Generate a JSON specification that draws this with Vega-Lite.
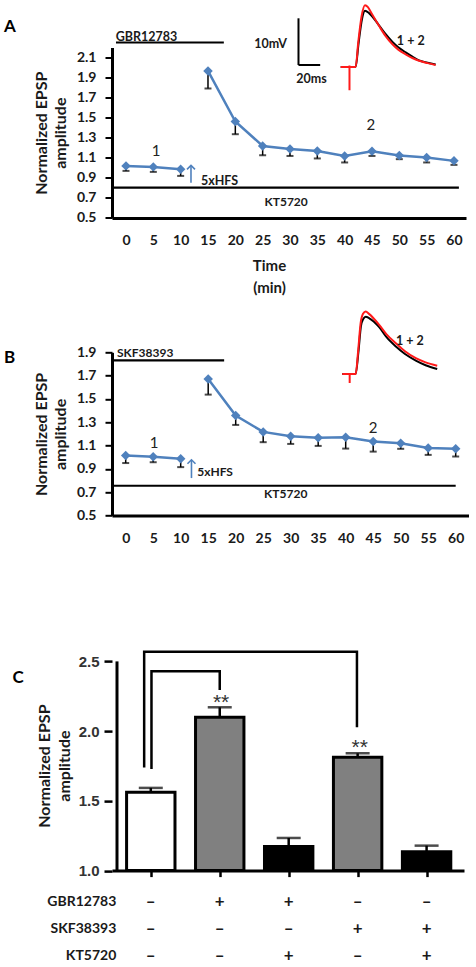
{
  "$schema": "https://vega.github.io/schema/vega-lite/v6.json",
  "padding": {"left": 3, "top": 0.5, "right": 0, "bottom": 0},
  "bounds": "flush",
  "spacing": 133.8,
  "config": {"view": {"stroke": null}, "font": "Lato", "axis": {"grid": false, "labelOverlap": false, "labelBound": false, "tickCount": 30}},
  "datasets": {
    "seriesA": [
      {"time": 0, "phase": "baseline", "value": 1.019, "lower": 0.969},
      {"time": 5, "phase": "baseline", "value": 1.009, "lower": 0.959},
      {"time": 10, "phase": "baseline", "value": 0.986, "lower": 0.919},
      {"time": 15, "phase": "post", "value": 1.966, "lower": 1.791},
      {"time": 20, "phase": "post", "value": 1.462, "lower": 1.335},
      {"time": 25, "phase": "post", "value": 1.218, "lower": 1.125},
      {"time": 30, "phase": "post", "value": 1.188, "lower": 1.118},
      {"time": 35, "phase": "post", "value": 1.168, "lower": 1.093},
      {"time": 40, "phase": "post", "value": 1.118, "lower": 1.053},
      {"time": 45, "phase": "post", "value": 1.165, "lower": 1.118},
      {"time": 50, "phase": "post", "value": 1.122, "lower": 1.086},
      {"time": 55, "phase": "post", "value": 1.102, "lower": 1.053},
      {"time": 60, "phase": "post", "value": 1.069, "lower": 1.029}
    ],
    "seriesB": [
      {"time": 0, "phase": "baseline", "value": 1.014, "lower": 0.950},
      {"time": 5, "phase": "baseline", "value": 1.003, "lower": 0.957},
      {"time": 10, "phase": "baseline", "value": 0.986, "lower": 0.915},
      {"time": 15, "phase": "post", "value": 1.671, "lower": 1.537},
      {"time": 20, "phase": "post", "value": 1.357, "lower": 1.277},
      {"time": 25, "phase": "post", "value": 1.217, "lower": 1.129},
      {"time": 30, "phase": "post", "value": 1.180, "lower": 1.114},
      {"time": 35, "phase": "post", "value": 1.166, "lower": 1.097},
      {"time": 40, "phase": "post", "value": 1.172, "lower": 1.074},
      {"time": 45, "phase": "post", "value": 1.134, "lower": 1.048},
      {"time": 50, "phase": "post", "value": 1.120, "lower": 1.072},
      {"time": 55, "phase": "post", "value": 1.080, "lower": 1.020},
      {"time": 60, "phase": "post", "value": 1.072, "lower": 1.006}
    ],
    "traceA": [
      {"trace": "1", "ms": -8.1, "mV": 0}, {"trace": "1", "ms": 0, "mV": 0}, {"trace": "1", "ms": 5.7, "mV": 0},
      {"trace": "1", "ms": 8.3, "mV": 4.9}, {"trace": "1", "ms": 11.5, "mV": 10.2}, {"trace": "1", "ms": 14.3, "mV": 12.0},
      {"trace": "1", "ms": 18, "mV": 11.5}, {"trace": "1", "ms": 27.2, "mV": 8.9}, {"trace": "1", "ms": 33, "mV": 7.1},
      {"trace": "1", "ms": 39.4, "mV": 5.4}, {"trace": "1", "ms": 45, "mV": 4.2}, {"trace": "1", "ms": 51.8, "mV": 3.1},
      {"trace": "1", "ms": 58, "mV": 2.2}, {"trace": "1", "ms": 64.1, "mV": 1.4}, {"trace": "1", "ms": 72, "mV": 0.9},
      {"trace": "1", "ms": 79.4, "mV": 0.5},
      {"trace": "2", "ms": -8.1, "mV": 0}, {"trace": "2", "ms": 0, "mV": 0}, {"trace": "2", "ms": 5.7, "mV": 0},
      {"trace": "2", "ms": 8.1, "mV": 5.3}, {"trace": "2", "ms": 11.2, "mV": 10.9}, {"trace": "2", "ms": 14.3, "mV": 13.2},
      {"trace": "2", "ms": 17, "mV": 12.8}, {"trace": "2", "ms": 20.7, "mV": 11.3}, {"trace": "2", "ms": 27.2, "mV": 8.8},
      {"trace": "2", "ms": 33, "mV": 6.7}, {"trace": "2", "ms": 39.4, "mV": 4.9}, {"trace": "2", "ms": 45, "mV": 3.7},
      {"trace": "2", "ms": 51.8, "mV": 2.7}, {"trace": "2", "ms": 58, "mV": 1.9}, {"trace": "2", "ms": 64.1, "mV": 1.3},
      {"trace": "2", "ms": 72, "mV": 0.8}, {"trace": "2", "ms": 79.4, "mV": 0.4}
    ],
    "traceB": [
      {"trace": "1", "ms": -6.8, "mV": 0}, {"trace": "1", "ms": 0, "mV": 0}, {"trace": "1", "ms": 5.5, "mV": 0},
      {"trace": "1", "ms": 8.1, "mV": 4.8}, {"trace": "1", "ms": 10.4, "mV": 10.3}, {"trace": "1", "ms": 12.5, "mV": 11.8},
      {"trace": "1", "ms": 14.8, "mV": 12.3}, {"trace": "1", "ms": 17.8, "mV": 12.0}, {"trace": "1", "ms": 27, "mV": 10.1},
      {"trace": "1", "ms": 34, "mV": 7.9}, {"trace": "1", "ms": 42.6, "mV": 5.9}, {"trace": "1", "ms": 51, "mV": 4.3},
      {"trace": "1", "ms": 61, "mV": 2.9}, {"trace": "1", "ms": 70, "mV": 1.9}, {"trace": "1", "ms": 80.7, "mV": 1.1},
      {"trace": "2", "ms": -6.8, "mV": 0}, {"trace": "2", "ms": 0, "mV": 0}, {"trace": "2", "ms": 5.5, "mV": 0},
      {"trace": "2", "ms": 7.9, "mV": 5.2}, {"trace": "2", "ms": 10.1, "mV": 10.9}, {"trace": "2", "ms": 12.3, "mV": 12.9},
      {"trace": "2", "ms": 14.8, "mV": 13.4}, {"trace": "2", "ms": 17.8, "mV": 12.9}, {"trace": "2", "ms": 27, "mV": 10.6},
      {"trace": "2", "ms": 34, "mV": 8.5}, {"trace": "2", "ms": 42.6, "mV": 6.6}, {"trace": "2", "ms": 51, "mV": 4.9},
      {"trace": "2", "ms": 61, "mV": 3.4}, {"trace": "2", "ms": 70, "mV": 2.5}, {"trace": "2", "ms": 80.7, "mV": 1.8}
    ],
    "bars": [
      {"idx": 0, "condition": "Control", "mean": 1.561, "err": 1.593},
      {"idx": 1, "condition": "GBR12783", "mean": 2.099, "err": 2.171},
      {"idx": 2, "condition": "GBR12783 + KT5720", "mean": 1.172, "err": 1.234},
      {"idx": 3, "condition": "SKF38393", "mean": 1.812, "err": 1.841},
      {"idx": 4, "condition": "SKF38393 + KT5720", "mean": 1.136, "err": 1.179}
    ],
    "brackets": [
      {"bracket": "Control vs GBR12783", "step": 1, "idx": 0.01, "value": 1.729},
      {"bracket": "Control vs GBR12783", "step": 2, "idx": 0.01, "value": 2.429},
      {"bracket": "Control vs GBR12783", "step": 3, "idx": 1.0, "value": 2.429},
      {"bracket": "Control vs GBR12783", "step": 4, "idx": 1.0, "value": 2.295},
      {"bracket": "Control vs SKF38393", "step": 1, "idx": -0.096, "value": 1.74},
      {"bracket": "Control vs SKF38393", "step": 2, "idx": -0.096, "value": 2.57},
      {"bracket": "Control vs SKF38393", "step": 3, "idx": 2.99, "value": 2.57},
      {"bracket": "Control vs SKF38393", "step": 4, "idx": 2.99, "value": 2.027}
    ],
    "stars": [
      {"idx": 1.02, "value": 2.2, "label": "**"},
      {"idx": 3.03, "value": 1.882, "label": "**"}
    ],
    "factors": [
      {"factor": "GBR12783", "row": 1},
      {"factor": "SKF38393", "row": 2},
      {"factor": "KT5720", "row": 3}
    ],
    "signs": [
      {"row": 1, "idx": 0, "sign": "–"}, {"row": 1, "idx": 1, "sign": "+"}, {"row": 1, "idx": 2, "sign": "+"}, {"row": 1, "idx": 3, "sign": "–"}, {"row": 1, "idx": 4, "sign": "–"},
      {"row": 2, "idx": 0, "sign": "–"}, {"row": 2, "idx": 1, "sign": "–"}, {"row": 2, "idx": 2, "sign": "–"}, {"row": 2, "idx": 3, "sign": "+"}, {"row": 2, "idx": 4, "sign": "+"},
      {"row": 3, "idx": 0, "sign": "–"}, {"row": 3, "idx": 1, "sign": "–"}, {"row": 3, "idx": 2, "sign": "+"}, {"row": 3, "idx": 3, "sign": "–"}, {"row": 3, "idx": 4, "sign": "+"}
    ]
  },
  "vconcat": [
    {
      "width": 354,
      "height": 170.4,
      "resolve": {"scale": {"x": "independent", "y": "independent"}, "axis": {"x": "independent", "y": "independent"}},
      "layer": [
        {
          "layer": [
            {
              "data": {"name": "seriesA"},
              "mark": {"type": "rule", "color": "black", "strokeWidth": 1.5},
              "encoding": {
                "x": {"field": "time", "type": "quantitative", "scale": {"domain": [-2.56, 62.2], "nice": false, "zero": false},
                  "axis": {"values": [0, 5, 10, 15, 20, 25, 30, 35, 40, 45, 50, 55, 60], "tickCount": 30, "ticks": false, "domainColor": "black", "domainWidth": 3,
                    "labelFont": "Lato", "labelFontWeight": "bold", "labelFontSize": 14, "labelColor": "#1a1a1a", "labelPadding": 15.5, "labelFlush": false, "labelOverlap": false,
                    "title": ["Time", "(min)"], "titleFont": "Lato", "titleFontSize": 15, "titleFontWeight": "bold", "titleColor": "#1a1a1a",
                    "titleX": 157, "titleY": 41, "titleBaseline": "top", "titleAlign": "center", "titleLineHeight": 21.6}},
                "y": {"field": "lower", "type": "quantitative", "scale": {"domain": [0.5, 2.2], "nice": false, "zero": false},
                  "axis": {"values": [0.5, 0.7, 0.9, 1.1, 1.3, 1.5, 1.7, 1.9, 2.1], "tickCount": 30, "format": ".1f", "domainColor": "black", "domainWidth": 3,
                    "tickColor": "black", "tickWidth": 2, "tickSize": 7, "labelPadding": 9,
                    "labelFont": "Lato", "labelFontWeight": "bold", "labelFontSize": 14, "labelColor": "#1a1a1a", "labelFlush": false, "labelOverlap": false,
                    "title": ["Normalized EPSP", "amplitude"], "titleFont": "Lato", "titleFontSize": 16, "titleFontWeight": "bold", "titleColor": "#1a1a1a",
                    "titleLineHeight": 19, "titlePadding": 8}},
                "y2": {"field": "value"}
              }
            },
            {
              "data": {"name": "seriesA"},
              "mark": {"type": "tick", "orient": "horizontal", "color": "black", "size": 7, "thickness": 2},
              "encoding": {
                "x": {"field": "time", "type": "quantitative"},
                "y": {"field": "lower", "type": "quantitative"}
              }
            },
            {
              "data": {"name": "seriesA"},
              "mark": {"type": "line", "color": "#4F81BD", "strokeWidth": 2.5},
              "encoding": {
                "x": {"field": "time", "type": "quantitative"},
                "y": {"field": "value", "type": "quantitative"},
                "detail": {"field": "phase"}
              }
            },
            {
              "data": {"name": "seriesA"},
              "mark": {"type": "point", "shape": "diamond", "filled": true, "color": "#4F81BD", "size": 90, "opacity": 1},
              "encoding": {
                "x": {"field": "time", "type": "quantitative"},
                "y": {"field": "value", "type": "quantitative"}
              }
            },
            {
              "data": {"values": [
                {"drug": "GBR12783", "start": -1.83, "end": 17.9, "level": 2.25},
                {"drug": "KT5720", "start": -2.56, "end": 60.9, "level": 0.803}
              ]},
              "mark": {"type": "rule", "color": "black", "strokeWidth": 2.2},
              "encoding": {
                "x": {"field": "start", "type": "quantitative"},
                "x2": {"field": "end"},
                "y": {"field": "level", "type": "quantitative"}
              }
            },
            {
              "data": {"values": [{"label": "GBR12783", "time": -1.88, "value": 2.305}, {"label": "5xHFS", "time": 13.7, "value": 0.869}]},
              "mark": {"type": "text", "align": "left", "baseline": "middle", "font": "Lato", "fontWeight": "bold", "fontSize": 12.5, "color": "#1a1a1a"},
              "encoding": {
                "x": {"field": "time", "type": "quantitative"},
                "y": {"field": "value", "type": "quantitative"},
                "text": {"field": "label"}
              }
            },
            {
              "data": {"values": [{"label": "KT5720", "time": 29.3, "value": 0.657}]},
              "mark": {"type": "text", "align": "center", "baseline": "middle", "font": "Lato", "fontWeight": "bold", "fontSize": 12, "color": "#1a1a1a"},
              "encoding": {
                "x": {"field": "time", "type": "quantitative"},
                "y": {"field": "value", "type": "quantitative"},
                "text": {"field": "label"}
              }
            },
            {
              "data": {"values": [{"label": "1", "time": 5.49, "value": 1.168}, {"label": "2", "time": 44.8, "value": 1.425}]},
              "mark": {"type": "text", "align": "center", "baseline": "middle", "font": "Lato", "fontSize": 15, "color": "#222222"},
              "encoding": {
                "x": {"field": "time", "type": "quantitative"},
                "y": {"field": "value", "type": "quantitative"},
                "text": {"field": "label"}
              }
            },
            {
              "data": {"values": [{"label": "A", "time": -22.3, "value": 2.407}]},
              "mark": {"type": "text", "align": "left", "baseline": "middle", "font": "Lato", "fontWeight": "bold", "fontSize": 17, "color": "#000000"},
              "encoding": {
                "x": {"field": "time", "type": "quantitative"},
                "y": {"field": "value", "type": "quantitative"},
                "text": {"field": "label"}
              }
            },
            {
              "data": {"values": [{"event": "5xHFS", "time": 11.89, "from": 0.85, "to": 1.02}]},
              "mark": {"type": "rule", "color": "#4F81BD", "strokeWidth": 1.6},
              "encoding": {
                "x": {"field": "time", "type": "quantitative"},
                "y": {"field": "from", "type": "quantitative"},
                "y2": {"field": "to"}
              }
            },
            {
              "data": {"values": [{"event": "5xHFS", "time": 11.89, "to": 1.024}]},
              "mark": {"type": "point", "shape": "M-1,1L0,0L1,1", "filled": false, "color": "#4F81BD", "strokeWidth": 1.6, "size": 64, "opacity": 1},
              "encoding": {
                "x": {"field": "time", "type": "quantitative"},
                "y": {"field": "to", "type": "quantitative"}
              }
            }
          ]
        },
        {
          "layer": [
            {
              "data": {"name": "traceA"},
              "transform": [{"filter": "datum.trace === '1'"}],
              "mark": {"type": "line", "color": "#000000", "strokeWidth": 2, "interpolate": "monotone"},
              "encoding": {
                "x": {"field": "ms", "type": "quantitative", "scale": {"domain": [-218.9, 107.4], "nice": false, "zero": false}, "axis": null},
                "y": {"field": "mV", "type": "quantitative", "scale": {"domain": [-32.33, 4.15], "nice": false, "zero": false}, "axis": null}
              }
            },
            {
              "data": {"name": "traceA"},
              "transform": [{"filter": "datum.trace === '2'"}],
              "mark": {"type": "line", "color": "#ff1a1a", "strokeWidth": 2, "interpolate": "monotone"},
              "encoding": {
                "x": {"field": "ms", "type": "quantitative"},
                "y": {"field": "mV", "type": "quantitative"}
              }
            },
            {
              "data": {"values": [{"part": "stimulus artifact", "ms": 0, "mV": 0.3, "mV2": -5}]},
              "mark": {"type": "rule", "color": "#ff1a1a", "strokeWidth": 2},
              "encoding": {
                "x": {"field": "ms", "type": "quantitative"},
                "y": {"field": "mV", "type": "quantitative"},
                "y2": {"field": "mV2"}
              }
            },
            {
              "data": {"values": [
                {"bar": "10 mV", "ms": -47, "ms2": -47, "mV": 0.4, "mV2": 10.4},
                {"bar": "20 ms", "ms": -47, "ms2": -27, "mV": 0.4, "mV2": 0.4}
              ]},
              "mark": {"type": "rule", "color": "#000000", "strokeWidth": 2},
              "encoding": {
                "x": {"field": "ms", "type": "quantitative"},
                "x2": {"field": "ms2"},
                "y": {"field": "mV", "type": "quantitative"},
                "y2": {"field": "mV2"}
              }
            },
            {
              "data": {"values": [{"label": "10mV", "ms": -57.6, "mV": 4.86}]},
              "mark": {"type": "text", "align": "right", "baseline": "middle", "font": "Lato", "fontWeight": "bold", "fontSize": 12.5, "color": "#1a1a1a"},
              "encoding": {
                "x": {"field": "ms", "type": "quantitative"},
                "y": {"field": "mV", "type": "quantitative"},
                "text": {"field": "label"}
              }
            },
            {
              "data": {"values": [{"label": "20ms", "ms": -35, "mV": -2.6}, {"label": "1 + 2", "ms": 56.5, "mV": 5.6}]},
              "mark": {"type": "text", "align": "center", "baseline": "middle", "font": "Lato", "fontWeight": "bold", "fontSize": 12.5, "color": "#1a1a1a"},
              "encoding": {
                "x": {"field": "ms", "type": "quantitative"},
                "y": {"field": "mV", "type": "quantitative"},
                "text": {"field": "label"}
              }
            }
          ]
        }
      ]
    },
    {
      "width": 357,
      "height": 163.2,
      "resolve": {"scale": {"x": "independent", "y": "independent"}, "axis": {"x": "independent", "y": "independent"}},
      "layer": [
        {
          "layer": [
            {
              "data": {"name": "seriesB"},
              "mark": {"type": "rule", "color": "black", "strokeWidth": 1.5},
              "encoding": {
                "x": {"field": "time", "type": "quantitative", "scale": {"domain": [-2.49, 62.42], "nice": false, "zero": false},
                  "axis": {"values": [0, 5, 10, 15, 20, 25, 30, 35, 40, 45, 50, 55, 60], "tickCount": 30, "ticks": false, "domainColor": "black", "domainWidth": 3,
                    "labelFont": "Lato", "labelFontWeight": "bold", "labelFontSize": 14, "labelColor": "#1a1a1a", "labelPadding": 15.5, "labelFlush": false, "labelOverlap": false,
                    "title": null}},
                "y": {"field": "lower", "type": "quantitative", "scale": {"domain": [0.5, 1.9], "nice": false, "zero": false},
                  "axis": {"values": [0.5, 0.7, 0.9, 1.1, 1.3, 1.5, 1.7, 1.9], "tickCount": 30, "format": ".1f", "domainColor": "black", "domainWidth": 3,
                    "tickColor": "black", "tickWidth": 2, "tickSize": 7, "labelPadding": 9,
                    "labelFont": "Lato", "labelFontWeight": "bold", "labelFontSize": 14, "labelColor": "#1a1a1a", "labelFlush": false, "labelOverlap": false,
                    "title": ["Normalized EPSP", "amplitude"], "titleFont": "Lato", "titleFontSize": 16, "titleFontWeight": "bold", "titleColor": "#1a1a1a",
                    "titleLineHeight": 19, "titlePadding": 8}},
                "y2": {"field": "value"}
              }
            },
            {
              "data": {"name": "seriesB"},
              "mark": {"type": "tick", "orient": "horizontal", "color": "black", "size": 7, "thickness": 2},
              "encoding": {
                "x": {"field": "time", "type": "quantitative"},
                "y": {"field": "lower", "type": "quantitative"}
              }
            },
            {
              "data": {"name": "seriesB"},
              "mark": {"type": "line", "color": "#4F81BD", "strokeWidth": 2.5},
              "encoding": {
                "x": {"field": "time", "type": "quantitative"},
                "y": {"field": "value", "type": "quantitative"},
                "detail": {"field": "phase"}
              }
            },
            {
              "data": {"name": "seriesB"},
              "mark": {"type": "point", "shape": "diamond", "filled": true, "color": "#4F81BD", "size": 90, "opacity": 1},
              "encoding": {
                "x": {"field": "time", "type": "quantitative"},
                "y": {"field": "value", "type": "quantitative"}
              }
            },
            {
              "data": {"values": [
                {"drug": "SKF38393", "start": -2.13, "end": 17.9, "level": 1.831},
                {"drug": "KT5720", "start": -2.49, "end": 60.0, "level": 0.755}
              ]},
              "mark": {"type": "rule", "color": "black", "strokeWidth": 2.2},
              "encoding": {
                "x": {"field": "start", "type": "quantitative"},
                "x2": {"field": "end"},
                "y": {"field": "level", "type": "quantitative"}
              }
            },
            {
              "data": {"values": [{"label": "SKF38393", "time": -1.58, "value": 1.893}, {"label": "5xHFS", "time": 13.0, "value": 0.877}]},
              "mark": {"type": "text", "align": "left", "baseline": "middle", "font": "Lato", "fontWeight": "bold", "fontSize": 12, "color": "#1a1a1a"},
              "encoding": {
                "x": {"field": "time", "type": "quantitative"},
                "y": {"field": "value", "type": "quantitative"},
                "text": {"field": "label"}
              }
            },
            {
              "data": {"values": [{"label": "KT5720", "time": 29.1, "value": 0.686}]},
              "mark": {"type": "text", "align": "center", "baseline": "middle", "font": "Lato", "fontWeight": "bold", "fontSize": 12, "color": "#1a1a1a"},
              "encoding": {
                "x": {"field": "time", "type": "quantitative"},
                "y": {"field": "value", "type": "quantitative"},
                "text": {"field": "label"}
              }
            },
            {
              "data": {"values": [{"label": "1", "time": 5.15, "value": 1.121}, {"label": "2", "time": 45.0, "value": 1.25}]},
              "mark": {"type": "text", "align": "center", "baseline": "middle", "font": "Lato", "fontSize": 15, "color": "#222222"},
              "encoding": {
                "x": {"field": "time", "type": "quantitative"},
                "y": {"field": "value", "type": "quantitative"},
                "text": {"field": "label"}
              }
            },
            {
              "data": {"values": [{"label": "B", "time": -22.13, "value": 1.848}]},
              "mark": {"type": "text", "align": "left", "baseline": "middle", "font": "Lato", "fontWeight": "bold", "fontSize": 17, "color": "#000000"},
              "encoding": {
                "x": {"field": "time", "type": "quantitative"},
                "y": {"field": "value", "type": "quantitative"},
                "text": {"field": "label"}
              }
            },
            {
              "data": {"values": [{"event": "5xHFS", "time": 11.96, "from": 0.821, "to": 0.975}]},
              "mark": {"type": "rule", "color": "#4F81BD", "strokeWidth": 1.6},
              "encoding": {
                "x": {"field": "time", "type": "quantitative"},
                "y": {"field": "from", "type": "quantitative"},
                "y2": {"field": "to"}
              }
            },
            {
              "data": {"values": [{"event": "5xHFS", "time": 11.96, "to": 0.978}]},
              "mark": {"type": "point", "shape": "M-1,1L0,0L1,1", "filled": false, "color": "#4F81BD", "strokeWidth": 1.6, "size": 64, "opacity": 1},
              "encoding": {
                "x": {"field": "time", "type": "quantitative"},
                "y": {"field": "to", "type": "quantitative"}
              }
            }
          ]
        },
        {
          "layer": [
            {
              "data": {"name": "traceB"},
              "transform": [{"filter": "datum.trace === '1'"}],
              "mark": {"type": "line", "color": "#000000", "strokeWidth": 2, "interpolate": "monotone"},
              "encoding": {
                "x": {"field": "ms", "type": "quantitative", "scale": {"domain": [-219.1, 110], "nice": false, "zero": false}, "axis": null},
                "y": {"field": "mV", "type": "quantitative", "scale": {"domain": [-30.28, 4.67], "nice": false, "zero": false}, "axis": null}
              }
            },
            {
              "data": {"name": "traceB"},
              "transform": [{"filter": "datum.trace === '2'"}],
              "mark": {"type": "line", "color": "#ff1a1a", "strokeWidth": 2, "interpolate": "monotone"},
              "encoding": {
                "x": {"field": "ms", "type": "quantitative"},
                "y": {"field": "mV", "type": "quantitative"}
              }
            },
            {
              "data": {"values": [{"part": "stimulus artifact", "ms": 0, "mV": 0.2, "mV2": -1.9}]},
              "mark": {"type": "rule", "color": "#ff1a1a", "strokeWidth": 2},
              "encoding": {
                "x": {"field": "ms", "type": "quantitative"},
                "y": {"field": "mV", "type": "quantitative"},
                "y2": {"field": "mV2"}
              }
            },
            {
              "data": {"values": [{"label": "1 + 2", "ms": 55.5, "mV": 7.0}]},
              "mark": {"type": "text", "align": "center", "baseline": "middle", "font": "Lato", "fontWeight": "bold", "fontSize": 12.5, "color": "#1a1a1a"},
              "encoding": {
                "x": {"field": "ms", "type": "quantitative"},
                "y": {"field": "mV", "type": "quantitative"},
                "text": {"field": "label"}
              }
            }
          ]
        }
      ]
    },
    {
      "width": 352,
      "height": 220.5,
      "resolve": {"scale": {"y": "independent"}, "axis": {"y": "independent"}},
      "layer": [
        {
          "layer": [
            {
              "data": {"name": "bars"},
              "mark": {"type": "bar", "width": 48.4, "stroke": "black", "strokeWidth": 3},
              "encoding": {
                "x": {"field": "idx", "type": "quantitative", "scale": {"domain": [-0.49, 4.47], "nice": false, "zero": false},
                  "axis": {"values": [0, 1, 2, 3, 4], "tickCount": 30, "labels": false, "tickSize": 6, "tickWidth": 2.5, "tickColor": "black", "domainColor": "black", "domainWidth": 3, "title": null}},
                "y": {"field": "mean", "type": "quantitative", "scale": {"domain": [1.0, 2.581], "nice": false, "zero": false},
                  "axis": {"values": [1.0, 1.5, 2.0, 2.5], "tickCount": 30, "format": ".1f", "domain": false, "tickSize": 8, "tickWidth": 2.5, "tickColor": "black", "labelPadding": 5,
                    "labelFont": "Liberation Sans", "labelFontWeight": "bold", "labelFontSize": 15, "labelColor": "#333333", "labelFlush": false, "labelOverlap": false,
                    "title": ["Normalized EPSP", "amplitude"], "titleFont": "Lato", "titleFontSize": 16, "titleFontWeight": "bold", "titleColor": "#1a1a1a",
                    "titleLineHeight": 20, "titlePadding": 6, "titleY": 115.5}},
                "y2": {"datum": 1.0},
                "fill": {"field": "condition", "type": "nominal", "legend": null,
                  "scale": {"domain": ["Control", "GBR12783", "GBR12783 + KT5720", "SKF38393", "SKF38393 + KT5720"], "range": ["#ffffff", "#808080", "#000000", "#808080", "#000000"]}}
              }
            },
            {
              "data": {"name": "bars"},
              "mark": {"type": "rule", "color": "black", "strokeWidth": 2.5},
              "encoding": {
                "x": {"field": "idx", "type": "quantitative"},
                "y": {"field": "mean", "type": "quantitative"},
                "y2": {"field": "err"}
              }
            },
            {
              "data": {"name": "bars"},
              "mark": {"type": "tick", "orient": "horizontal", "color": "black", "size": 24, "thickness": 2.5},
              "encoding": {
                "x": {"field": "idx", "type": "quantitative"},
                "y": {"field": "err", "type": "quantitative"}
              }
            },
            {
              "data": {"values": [{"axis": "y", "from": 1.0, "to": 2.5}]},
              "mark": {"type": "rule", "color": "black", "strokeWidth": 3},
              "encoding": {
                "x": {"datum": -0.49, "type": "quantitative"},
                "y": {"field": "from", "type": "quantitative"},
                "y2": {"field": "to"}
              }
            },
            {
              "data": {"name": "brackets"},
              "mark": {"type": "line", "color": "black", "strokeWidth": 2.5},
              "encoding": {
                "x": {"field": "idx", "type": "quantitative"},
                "y": {"field": "value", "type": "quantitative"},
                "detail": {"field": "bracket"},
                "order": {"field": "step"}
              }
            },
            {
              "data": {"name": "stars"},
              "mark": {"type": "text", "align": "center", "baseline": "middle", "font": "Liberation Sans", "fontSize": 21, "color": "#333333"},
              "encoding": {
                "x": {"field": "idx", "type": "quantitative"},
                "y": {"field": "value", "type": "quantitative"},
                "text": {"field": "label"}
              }
            },
            {
              "data": {"values": [{"label": "C", "idx": -2.004, "value": 2.38}]},
              "mark": {"type": "text", "align": "left", "baseline": "middle", "font": "Lato", "fontWeight": "bold", "fontSize": 17, "color": "#000000"},
              "encoding": {
                "x": {"field": "idx", "type": "quantitative"},
                "y": {"field": "value", "type": "quantitative"},
                "text": {"field": "label"}
              }
            }
          ]
        },
        {
          "layer": [
            {
              "data": {"name": "factors"},
              "mark": {"type": "text", "align": "right", "baseline": "middle", "font": "Lato", "fontWeight": "bold", "fontSize": 14, "color": "#1a1a1a"},
              "encoding": {
                "x": {"datum": -0.5, "type": "quantitative"},
                "y": {"field": "row", "type": "quantitative", "scale": {"domain": [-8.34, -0.174], "reverse": true, "nice": false, "zero": false}, "axis": null},
                "text": {"field": "factor"}
              }
            },
            {
              "data": {"name": "signs"},
              "mark": {"type": "text", "align": "center", "baseline": "middle", "font": "Lato", "fontWeight": "bold", "fontSize": 17, "color": "#1a1a1a"},
              "encoding": {
                "x": {"field": "idx", "type": "quantitative"},
                "y": {"field": "row", "type": "quantitative"},
                "text": {"field": "sign"}
              }
            }
          ]
        }
      ]
    }
  ]
}
